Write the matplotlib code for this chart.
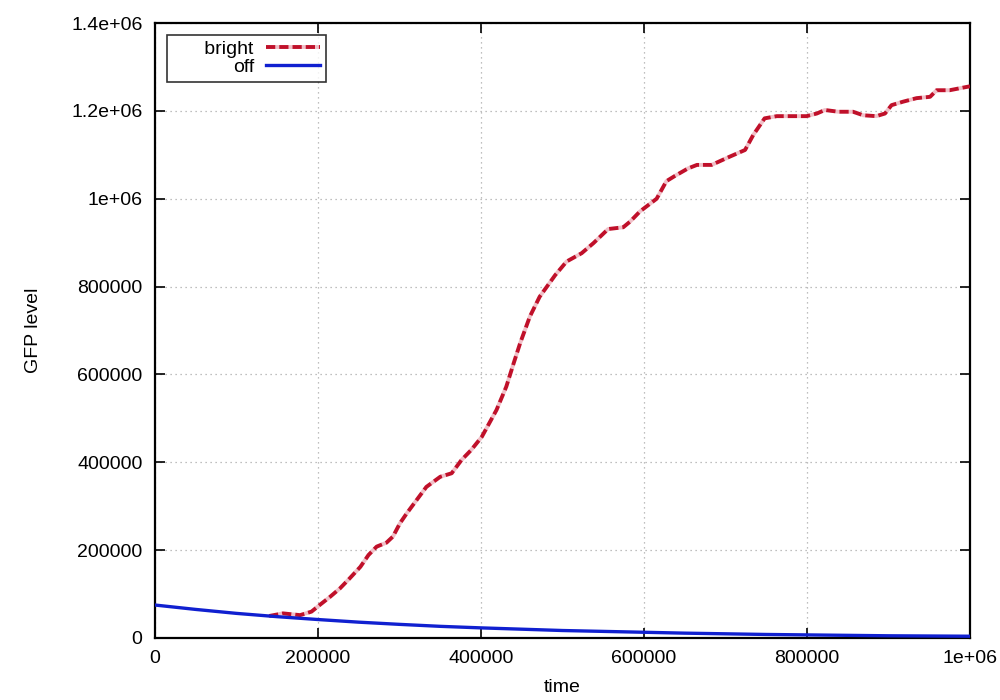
import matplotlib
matplotlib.use("Agg")
import matplotlib.pyplot as plt
from matplotlib.ticker import FixedLocator

plt.rcParams['font.family'] = ['Liberation Sans', 'DejaVu Sans']

# ---- data ----
off_t = [0, 50000, 100000, 150000, 200000, 250000, 300000, 350000, 400000,
         450000, 500000, 550000, 600000, 650000, 700000, 750000, 800000,
         850000, 900000, 950000, 1000000]
off_v = [75000, 65000, 56000, 48500, 42000, 36000, 31000, 26500, 23000,
         20000, 17000, 15000, 13000, 11000, 9500, 8000, 7000,
         6000, 5000, 4500, 4000]

bright_t = [140000, 157000, 178000, 192000, 202000, 215000, 227000, 239000,
            252000, 262000, 272000, 284000, 292000, 300500, 309000, 321000,
            333000, 350000, 364000, 376000, 388000, 401000, 419000, 431000,
            440000, 448000, 460000, 472000, 491000, 505000, 523500, 538000,
            556000, 574500, 583000, 595000, 615500, 627500, 638000, 654000,
            665000, 683000, 705500, 724000, 734000, 748000, 763000, 799500,
            812000, 822000, 838500, 856500, 869000, 885000, 895700, 903700,
            918000, 934500, 951000, 959000, 975000, 1000000]
bright_v = [50000, 56000, 52000, 60000, 75000, 94000, 113000, 136000,
            162000, 189000, 208000, 217000, 231000, 261000, 284000, 314000,
            344000, 367000, 375000, 405000, 428000, 458000, 519000, 572000,
            625000, 671000, 732000, 777000, 826000, 857000, 876000, 899000,
            931000, 935000, 948000, 971000, 1000000, 1040000, 1052000, 1069000,
            1077000, 1077000, 1096000, 1111000, 1145000, 1183000, 1188000, 1188000,
            1194000, 1202000, 1198000, 1198000, 1190000, 1188000, 1194000, 1213000,
            1221000, 1229000, 1232000, 1247000, 1247000, 1256000]

x_ticks = [0, 200000, 400000, 600000, 800000, 1000000]
x_labels = ['0', '200000', '400000', '600000', '800000', '1e+06']
y_ticks = [0, 200000, 400000, 600000, 800000, 1000000, 1200000, 1400000]
y_labels = ['0', '200000', '400000', '600000', '800000', '1e+06', '1.2e+06', '1.4e+06']

# ---- plot ----
fig = plt.figure(figsize=(10, 7), dpi=100)
ax = fig.add_axes([0.155, 0.0886, 0.815, 0.8785])

ax.plot(bright_t, bright_v, color='#c0102a', lw=2.8, linestyle=(0, (2.4, 1.0)),
        gapcolor='#f0c0c8', label='      bright', zorder=3, solid_capstyle='butt',
        solid_joinstyle='round')
ax.plot(off_t, off_v, color='#1020d0', lw=2.4, label='off', zorder=4)

ax.set_xlim(0, 1000000)
ax.set_ylim(0, 1400000)
ax.xaxis.set_major_locator(FixedLocator(x_ticks))
ax.yaxis.set_major_locator(FixedLocator(y_ticks))
ax.set_xticklabels(x_labels)
ax.set_yticklabels(y_labels)

ax.tick_params(axis='both', direction='in', length=7, width=1.2, top=True, right=True,
               labelsize=14, colors='black')
ax.tick_params(axis='y', pad=9)
ax.tick_params(axis='x', pad=9)
for s in ax.spines.values():
    s.set_linewidth(1.6)
    s.set_color('black')

ax.grid(True, color='#aaaaaa', linestyle=(0, (1, 3)), linewidth=0.9)
ax.set_axisbelow(True)

ax.set_xlabel('time', fontsize=14, labelpad=8)
ax.set_ylabel('GFP level', fontsize=14, labelpad=21)

leg = ax.legend(loc='upper left', markerfirst=False, fontsize=14,
                frameon=True, fancybox=False, edgecolor='black',
                handlelength=2.8, handletextpad=0.6, borderpad=0.3,
                labelspacing=0.0, borderaxespad=0.6)
leg.get_frame().set_linewidth(1.2)
for t in leg.get_texts():
    t.set_ha('right')
leg._legend_box.align = 'right'

fig.savefig('out.png', dpi=100)
